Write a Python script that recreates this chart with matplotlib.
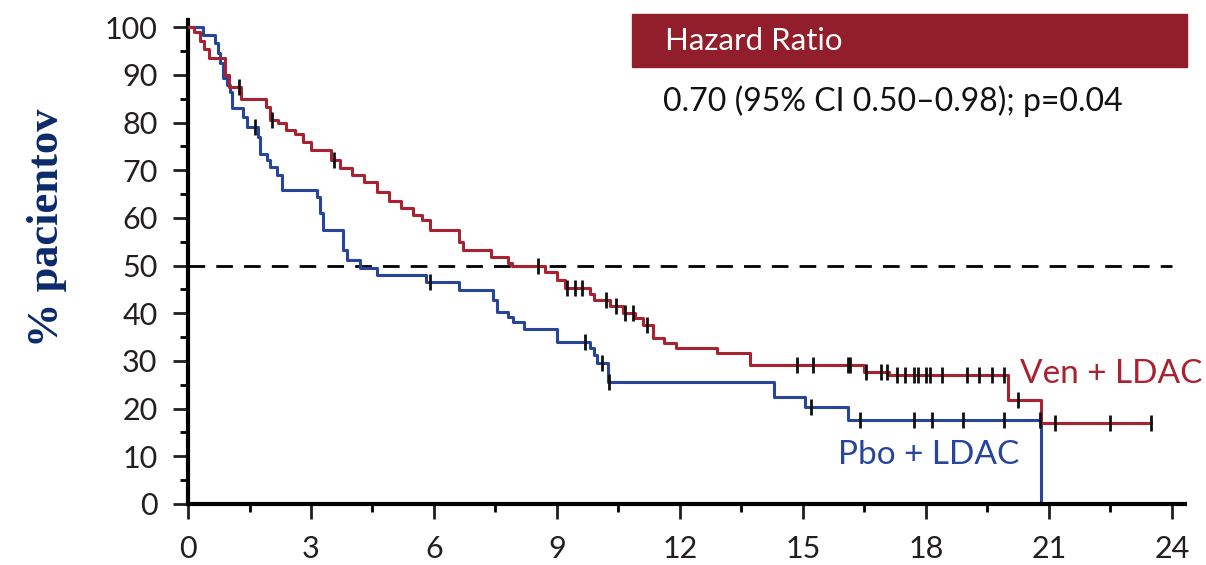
import numpy as np
import matplotlib
matplotlib.use("Agg")
import matplotlib.pyplot as plt
from matplotlib.patches import Rectangle
from matplotlib.ticker import MultipleLocator

# Ven + LDAC: step times (months) and survival (%) after each step
ven_t = [0, 0.15, 0.3, 0.4, 0.5, 0.9, 1.0, 1.3, 1.9, 2.0, 2.2, 2.4, 2.6, 2.8, 3.0,
         3.5, 3.7, 4.0, 4.3, 4.6, 4.9, 5.2, 5.5, 5.7, 5.9, 6.6, 6.7, 7.4, 7.8, 7.9,
         8.7, 9.0, 9.2, 9.8, 9.9, 10.3, 10.6, 10.9, 11.1, 11.35, 11.6, 11.9, 12.9,
         13.7, 16.5, 17.1, 20.0, 20.8, 23.5]
ven_s = [100, 99, 97, 95.5, 93.5, 90, 87.5, 85, 83.3, 80.5, 79.8, 78.5, 77.5, 76, 74.2,
         72.1, 70.5, 69, 67.5, 65.5, 63.5, 62, 60.5, 59.5, 57.4, 55, 53.2, 51.8, 50.5, 50,
         48.6, 47, 45.3, 44, 42.8, 41.5, 40, 39, 37.5, 34.8, 33.7, 32.7, 31.6,
         29.1, 27.7, 27, 21.8, 17, 17]
ven_cens = [1.25, 2.05, 3.56, 8.54, 9.25, 9.45, 9.6, 10.2, 10.45, 10.65, 10.85, 11.2,
            14.85, 15.25, 16.1, 16.15, 16.55, 16.9, 17.05, 17.3, 17.5, 17.7, 17.8, 18.0,
            18.1, 18.4, 19.0, 19.3, 19.6, 19.9, 20.25, 21.15, 22.5, 23.5]

# Pbo + LDAC
pbo_t = [0, 0.37, 0.67, 0.72, 0.78, 0.86, 0.94, 1.02, 1.07, 1.35, 1.45, 1.7, 1.76,
         1.92, 2.0, 2.17, 2.3, 3.14, 3.22, 3.3, 3.78, 3.87, 4.2, 4.6, 5.8, 6.6, 7.45,
         7.53, 7.8, 7.93, 8.2, 9.0, 9.8, 9.9, 9.97, 10.24, 14.3, 15.05, 16.1, 20.8]
pbo_s = [100, 98.3, 96.6, 94.5, 92.4, 89.3, 87.8, 86.4, 83, 81.2, 79, 77, 73.5,
         72.1, 70.6, 69, 65.8, 64.4, 61, 57.4, 53.2, 51.2, 49.5, 48, 46.6, 44.9, 42.8,
         40.3, 39.3, 38.2, 36.8, 34.0, 32.7, 31.2, 29.5, 25.6, 22.4, 20.4, 17.6, 0]
pbo_cens = [1.63, 5.9, 9.68, 10.1, 10.26, 15.2, 16.4, 17.7, 18.15, 18.9, 19.9, 20.79]

x_ticks = [0, 3, 6, 9, 12, 15, 18, 21, 24]
y_ticks = [0, 10, 20, 30, 40, 50, 60, 70, 80, 90, 100]

red = "#a8232f"
blue = "#27469a"

fig = plt.figure(figsize=(12.06, 5.65), dpi=100)
ax = fig.add_axes([0.1559, 0.108, 0.8267, 0.8566])

ax.axhline(50, color="black", lw=2, ls=(0, (6, 4)), xmax=24 / 24.32, zorder=1)

ax.step(ven_t, ven_s, where="post", color=red, lw=2.2, zorder=3)
ax.step(pbo_t, pbo_s, where="post", color=blue, lw=2.2, zorder=2)


def at(t, s, c):
    t = np.asarray(t)
    i = np.searchsorted(t, c, side="right") - 1
    return np.asarray(s)[i]


ax.plot(ven_cens, at(ven_t, ven_s, ven_cens), ls="none", marker="|", ms=11,
        mew=2, color="#111111", zorder=4)
ax.plot(pbo_cens, [at(pbo_t, pbo_s[:-1] + [17.6], c) for c in pbo_cens], ls="none",
        marker="|", ms=11, mew=2, color="#111111", zorder=4)

ax.set_xlim(0, 24.32)
ax.set_ylim(0, 101.5)
ax.set_xticks(x_ticks)
ax.set_yticks(y_ticks)
ax.xaxis.set_minor_locator(MultipleLocator(1.5))
ax.yaxis.set_minor_locator(MultipleLocator(5))
ax.tick_params(which="major", length=11, width=2, labelsize=22, colors="#231f20",
               pad=11)
ax.tick_params(which="minor", length=5.5, width=2)
for lab in ax.get_xticklabels() + ax.get_yticklabels():
    lab.set_family("Lato")
for side in ["top", "right"]:
    ax.spines[side].set_visible(False)
for side in ["left", "bottom"]:
    ax.spines[side].set_linewidth(3)

ax.set_ylabel("% pacientov", family="Liberation Serif", fontweight="bold",
              fontsize=32, color="#0c2a6b")
ax.yaxis.set_label_coords(-0.121, 0.57)

ax.text(20.3, 27.3, "Ven + LDAC", color=red, fontsize=24, family="Lato",
        va="center", ha="left")
ax.text(15.85, 10.3, "Pbo + LDAC", color=blue, fontsize=24, family="Lato",
        va="center", ha="left")

# hazard ratio box
fig.patches.append(Rectangle((632 / 1206, 1 - 67 / 565), 555 / 1206, 53 / 565,
                             transform=fig.transFigure, color="#921d2b"))
fig.text(665 / 1206, 1 - 41 / 565, "Hazard Ratio", color="white", fontsize=22.5,
         family="Lato", va="center")
fig.text(663 / 1206, 1 - 101 / 565, "0.70 (95% CI 0.50\u20130.98); p=0.04",
         color="#111111", fontsize=23, family="Lato", va="center")

fig.savefig("out.png", dpi=100)
